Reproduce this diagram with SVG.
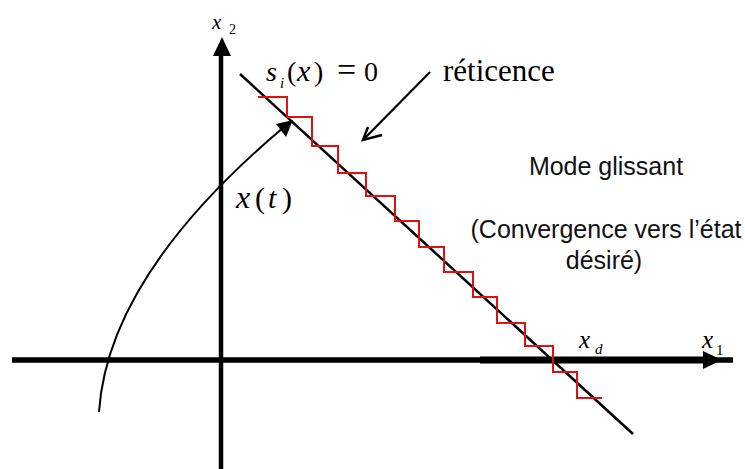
<svg xmlns="http://www.w3.org/2000/svg" width="745" height="469" viewBox="0 0 745 469">
<style>
.m{font-family:"Liberation Serif","Times New Roman",serif;fill:#000}
.it{font-style:italic}
.s{font-family:"Liberation Sans",Arial,Helvetica,sans-serif;fill:#111;font-size:25px;text-anchor:middle}
.ax{stroke:#000;fill:none}
</style>
<rect width="745" height="469" fill="#fff"/>
<g id="axes">
<line class="ax" x1="12" y1="360" x2="733" y2="360" stroke-width="5.5"/>
<line class="ax" x1="480" y1="360" x2="706" y2="360" stroke-width="7"/>
<polygon points="722,360 703,351 703,369" fill="#000"/>
<line class="ax" x1="221" y1="50" x2="221" y2="469" stroke-width="4.5"/>
<polygon points="222,37 213,56 231,56" fill="#000"/>
<text class="m it" x="212" y="29" font-size="21">x</text>
<text class="m" x="229" y="34" font-size="14">2</text>
<text class="m it" x="702" y="348" font-size="25">x</text>
<text class="m" x="716" y="355" font-size="15">1</text>
<text class="m it" x="579" y="348" font-size="25">x</text>
<text class="m it" x="595" y="354" font-size="15">d</text>
</g>
<g id="surface">
<line x1="240" y1="74" x2="633" y2="434" stroke="#000" stroke-width="2.5"/>
<text class="m it" x="266" y="81" font-size="28">s</text>
<text class="m it" x="280" y="88" font-size="15">i</text>
<text class="m" x="287" y="81" font-size="28">(</text>
<text class="m it" x="297" y="81" font-size="30">x</text>
<text class="m" x="314" y="81" font-size="28">)</text>
<text class="m" x="337" y="81" font-size="34">=</text>
<text class="m" x="364" y="81" font-size="28">0</text>
</g>
<g id="chattering">
<polyline fill="none" stroke="#e01010" stroke-width="2" points="258,97 287,97 287,117 312,117 312,146 338,146 338,173 366,173 366,196 395,196 395,221 419,221 419,247 444,247 444,272 473,272 473,297 497,297 497,323 525,323 525,346 553,346 553,372 577,372 577,398 602,398"/>
</g>
<g id="trajectory">
<path d="M99,412 C104,335 150,240 284,127" fill="none" stroke="#000" stroke-width="2"/>
<polygon points="293,120 276,124 286,137" fill="#000"/>
<text class="m it" x="236" y="208" font-size="32">x</text>
<text class="m" x="255" y="208" font-size="30">(</text>
<text class="m it" x="268" y="208" font-size="30">t</text>
<text class="m" x="282" y="208" font-size="30">)</text>
</g>
<g id="reticence">
<line x1="430" y1="72" x2="364" y2="139" stroke="#000" stroke-width="2.2"/>
<polyline points="368,127 363,140 382,135" fill="none" stroke="#000" stroke-width="2.5" stroke-linejoin="miter"/>
<text class="m" x="443" y="81" font-size="31">réticence</text>
</g>
<g id="mode">
<text class="s" x="606" y="175">Mode glissant</text>
<text class="s" x="606" y="238">(Convergence vers l’état</text>
<text class="s" x="604" y="269">désiré)</text>
</g>
</svg>
